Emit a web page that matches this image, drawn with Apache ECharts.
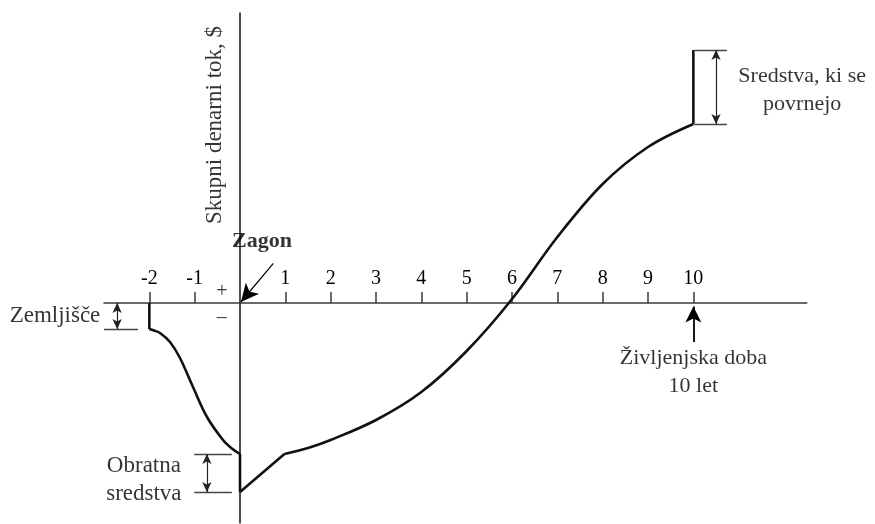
<!DOCTYPE html>
<html>
<head>
<meta charset="utf-8">
<script src="https://cdn.jsdelivr.net/npm/echarts@6/dist/echarts.min.js"></script>
<style>html,body{margin:0;padding:0;background:#fff;}#c{width:875px;height:524px;}</style>
</head>
<body>
<div id="c"></div>
<script>
// ---- data (x in years, y in relative $ units) ----
const xTicks = [-2, -1, 1, 2, 3, 4, 5, 6, 7, 8, 9, 10];
const landDrop = [[-2, 0], [-2, -2.6]];
const preProduction = [[-2, -2.6], [-1.9, -2.75], [-1.765, -3.0], [-1.544, -3.9], [-1.324, -5.5], [-1.037, -8.4], [-0.728, -11.4], [-0.375, -13.7], [-0.18, -14.55], [0, -15.1]];
const workingCapital = [[0, -15.1], [0, -18.9], [0.98, -15.1]];
const operation = [[0.98, -15.1], [1.5, -14.5], [2, -13.7], [3, -11.7], [4, -8.9], [5, -4.8], [6, 0.4], [7, 6.6], [8, 11.9], [9, 15.6], [10, 17.9]];
const recovered = [[10, 17.9], [10, 25.3]];
// annotation anchors
const landLevel = -2.6, wcTop = -15.1, wcBottom = -18.9, recTop = 25.3, recBottom = 17.9;
const texts = [
  { name: 'Skupni denarni tok, $', at: [-0.55, 17.8], rotate: 90, size: 23 },
  { name: 'Zagon', at: [0.485, 6.2], bold: true },
  { name: '+', at: [-0.4, 1.1], size: 20 },
  { name: '–', at: [-0.4, -1.5], size: 20 },
  { name: 'Zemljišče', at: [-3.07, -1.3], pos: 'left', size: 23 },
  { name: 'Obratna\nsredstva', at: [-2.12, -17.7], size: 23 },
  { name: 'Sredstva, ki se\npovrnejo', at: [12.4, 21.3] },
  { name: 'Življenjska doba\n10 let', at: [10, -6.9] }
];

const FONT = 'Liberation Serif';
const AX = '#3a3a3a';
const CURVE = { color: '#111', width: 2.6 };
const yMin = -22, yMax = 29, gridTop = 13, gridBottom = 1;
function seg(data, smooth) {
  return { type: 'line', data: data, smooth: smooth ? 0.35 : false,
    symbol: 'none', lineStyle: CURVE, silent: true, clip: false };
}
function ml(a, b, s1, s2, size, w, color) {
  return [
    { coord: a, symbol: s1, symbolSize: size },
    { coord: b, symbol: s2, symbolSize: size, lineStyle: { width: w || 1.2, color: color || '#222', type: 'solid' } }
  ];
}
const small = [7, 10];
const el = document.getElementById('c');
const chart = echarts.init(el, null, { renderer: 'canvas' });
// place the x axis at y = 0 by offsetting it from the grid bottom
const plotH = 524 - gridTop - gridBottom;
const zeroOffset = -plotH * (0 - yMin) / (yMax - yMin);
chart.setOption({
  animation: false,
  backgroundColor: '#fff',
  grid: { left: 104, right: 68.3, top: gridTop, bottom: gridBottom, containLabel: false },
  xAxis: {
    type: 'value', min: -3, max: 12.5, position: 'bottom', offset: zeroOffset,
    axisLine: { show: true, onZero: false, lineStyle: { color: AX, width: 1.6 } },
    axisTick: { show: true, inside: true, length: 11, customValues: xTicks, lineStyle: { color: AX, width: 1.5 } },
    axisLabel: { show: true, inside: true, customValues: xTicks, margin: 14, fontSize: 20, fontFamily: FONT, color: '#000' },
    splitLine: { show: false }
  },
  yAxis: {
    type: 'value', min: yMin, max: yMax,
    axisLine: { show: true, onZero: true, lineStyle: { color: '#222', width: 1.6 } },
    axisTick: { show: false }, axisLabel: { show: false }, splitLine: { show: false }
  },
  series: [
    seg(landDrop, false),
    seg(preProduction, true),
    seg(workingCapital, false),
    seg(operation, true),
    seg(recovered, false),
    {
      type: 'scatter', data: [], silent: true, clip: false,
      markLine: {
        silent: true, animation: false, label: { show: false }, symbol: ['none', 'none'],
        lineStyle: { type: 'solid', color: '#222', width: 1.2 },
        data: [
          ml([-3, landLevel], [-2.25, landLevel], 'none', 'none', 0, 1.3, '#444'),
          ml([-2.71, 0], [-2.71, landLevel], 'arrow', 'arrow', small, 1.2),
          ml([-1.01, wcTop], [-0.18, wcTop], 'none', 'none', 0, 1.3, '#444'),
          ml([-1.01, wcBottom], [-0.18, wcBottom], 'none', 'none', 0, 1.3, '#444'),
          ml([-0.73, wcTop], [-0.73, wcBottom], 'arrow', 'arrow', small, 1.2),
          ml([10.02, recTop], [10.74, recTop], 'none', 'none', 0, 1.3, '#444'),
          ml([10.02, recBottom], [10.74, recBottom], 'none', 'none', 0, 1.3, '#444'),
          ml([10.5, recTop], [10.5, recBottom], 'arrow', 'arrow', small, 1.2),
          ml([0.735, 3.97], [0.02, 0.1], 'none', 'arrow', [13, 18], 1.2, '#000'),
          ml([10, -3.9], [10, -0.35], 'none', 'arrow', [12, 16], 1.8, '#000')
        ]
      }
    },
    {
      type: 'scatter', silent: true, clip: false, symbolSize: 1,
      itemStyle: { color: 'rgba(0,0,0,0)' },
      data: texts.map(t => ({
        name: t.name, value: t.at,
        label: {
          show: true, formatter: t.name, position: t.pos || 'inside', distance: 0,
          rotate: t.rotate || 0, fontFamily: FONT, fontSize: t.size || 22,
          fontWeight: t.bold ? 'bold' : 'normal', color: '#000', lineHeight: 28, align: t.pos ? 'right' : 'center'
        }
      }))
    }
  ]
});
</script>
</body>
</html>
